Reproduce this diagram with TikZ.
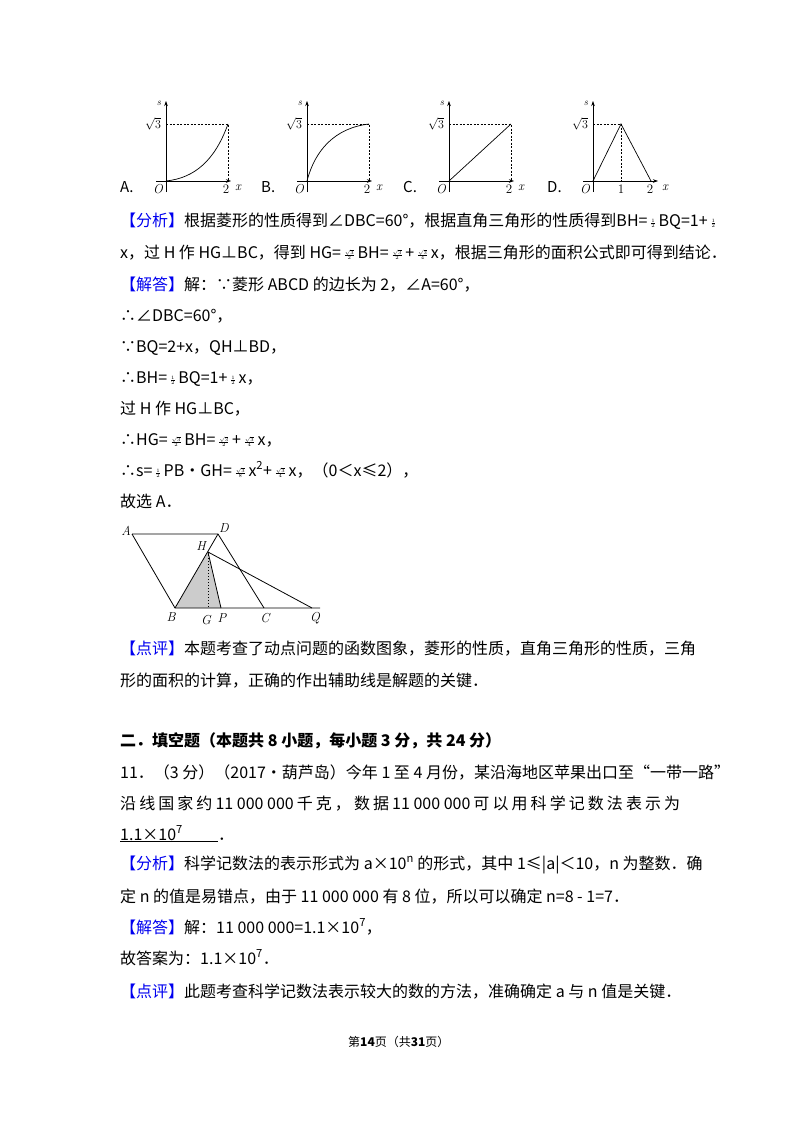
\documentclass[tikz,border=0pt]{standalone}
\usepackage{fontspec}
\usetikzlibrary{arrows.meta}
\setmainfont{Noto Sans CJK SC}
\newfontfamily\lm{Latin Modern Roman}
\newcommand\fr[2]{\,\raisebox{1pt}{\fontsize{6}{6}\selectfont$\frac{#1}{#2}$}\,}
\definecolor{tagblue}{RGB}{0,0,240}
\begin{document}
\begin{tikzpicture}[x=1pt,y=-1pt,
  txt/.style={anchor=base west,inner sep=0pt,font=\fontsize{16}{16}\selectfont},
  lbl/.style={inner sep=0pt,font=\fontsize{13}{13}\selectfont\lm\itshape},
  num/.style={inner sep=0pt,font=\fontsize{13}{13}\selectfont\lm},
  ax/.style={line width=0.6pt,-{Stealth[length=5pt,width=3.5pt]}},
  dsh/.style={dashed,dash pattern=on 2pt off 1.5pt,line width=0.5pt},
  crv/.style={line width=0.7pt},
  geo/.style={line width=0.8pt}]
\useasboundingbox (0,0) rectangle (800,1132);
\fill[white] (0,0) rectangle (800,1132);
% ---- four graphs
\foreach \ox/\lab in {166/A,307/B,449/C,593/D}{
  \draw[ax] (\ox-10,181) -- (\ox+65,181);
  \draw[ax] (\ox,192) -- (\ox,101);
  \node[lbl,font=\fontsize{10}{10}\selectfont\lm\itshape] at (\ox-7,103) {s};
  \node[lbl] at (\ox-8,189) {O};
  \node[num] at (\ox-13,124) {$\sqrt{3}$};
  \node[lbl] at (\ox+72,188) {x};
  \node[txt,font=\fontsize{15}{15}\selectfont] at (\ox-46,192) {\lab.};
}
\foreach \ox in {166,307,449}{
  \draw[dsh] (\ox,124) -- (\ox+62,124) -- (\ox+62,181);
  \node[num] at (\ox+60,189) {2};
}
\draw[crv] (166,181) .. controls (195,178) and (215,160) .. (228,124);
\draw[crv] (307,181) .. controls (315,150) and (335,128) .. (369,124);
\draw[crv] (449,181) -- (511,124);
\draw[dsh] (593,124) -- (621,124) -- (621,181);
\draw[crv] (593,181) -- (621,124) -- (651,181);
\node[num] at (621,189) {1};
\node[num] at (650,189) {2};
% ---- text block 1
\node[txt] (t1) at (120,226) {{\color{tagblue}【分析】}根据菱形的性质得到∠DBC=60°，根据直角三角形的性质得到BH=\fr12BQ=1+\fr12};
\node[txt] (t2) at (120,258) {x，过 H 作 HG⊥BC，得到 HG=\fr{\sqrt3}{2}BH=\fr{\sqrt3}{2}+\fr{\sqrt3}{4}x，根据三角形的面积公式即可得到结论．};
\node[txt] (t3) at (120,290) {{\color{tagblue}【解答】}解：∵菱形 ABCD 的边长为 2，∠A=60°，};
\node[txt] (t4) at (120,321) {∴∠DBC=60°，};
\node[txt] (t5) at (120,352) {∵BQ=2+x，QH⊥BD，};
\node[txt] (t6) at (120,383) {∴BH=\fr12BQ=1+\fr12x，};
\node[txt] (t7) at (120,414) {过 H 作 HG⊥BC，};
\node[txt] (t8) at (120,445) {∴HG=\fr{\sqrt3}{2}BH=\fr{\sqrt3}{2}+\fr{\sqrt3}{4}x，};
\node[txt] (t9) at (120,476) {∴s=\fr12PB•GH=\fr{\sqrt3}{8}x\textsuperscript{2}+\fr{\sqrt3}{4}x，（0＜x≤2），};
\node[txt] (t10) at (120,507) {故选 A．};
% ---- rhombus figure
\coordinate (A) at (132,534); \coordinate (D) at (218,534);
\coordinate (B) at (175,608); \coordinate (C) at (264,608);
\coordinate (Q) at (312,608); \coordinate (E) at (320,608);
\coordinate (H) at (208,552); \coordinate (G) at (208,608);
\coordinate (P) at (221,608);
\fill[gray!40] (B) -- (H) -- (P) -- cycle;
\draw[geo] (A) -- (D) -- (C);
\draw[geo] (A) -- (B) -- (E);
\draw[geo] (B) -- (D);
\draw[geo] (H) -- (Q);
\draw[geo] (H) -- (P);
\draw[dotted,line width=1pt] (H) -- (G);
\node[lbl] at (126,531) {A};
\node[lbl] at (224,528) {D};
\node[lbl] at (201,546) {H};
\node[lbl] at (171,617) {B};
\node[lbl] at (206,620) {G};
\node[lbl] at (222,618) {P};
\node[lbl] at (265,618) {C};
\node[lbl] at (315,618) {Q};
% ---- text block 2
\node[txt] (t11) at (120,654) {{\color{tagblue}【点评】}本题考查了动点问题的函数图象，菱形的性质，直角三角形的性质，三角};
\node[txt] (t12) at (120,686) {形的面积的计算，正确的作出辅助线是解题的关键．};
\node[txt,font=\fontsize{16}{16}\selectfont\bfseries] (t13) at (120,746) {二．填空题（本题共 8 小题，每小题 3 分，共 24 分）};
\node[txt] (t14) at (120,778) {11．（3 分）（2017•葫芦岛）今年 1 至 4 月份，某沿海地区苹果出口至“一带一路”};
\node[txt] (t15) at (120,809) {\makebox[560pt][s]{沿\hfill 线\hfill 国\hfill 家\hfill 约\hfill 11 000 000\hfill 千\hfill 克\hfill ，\hfill 数\hfill 据\hfill 11 000 000\hfill 可\hfill 以\hfill 用\hfill 科\hfill 学\hfill 记\hfill 数\hfill 法\hfill 表\hfill 示\hfill 为}};
\node[txt] (t16) at (120,840) {\underline{1.1×10\textsuperscript{7}\hspace{2.2em}}．};
\node[txt] (t17) at (120,869) {{\color{tagblue}【分析】}科学记数法的表示形式为 a×10\textsuperscript{n} 的形式，其中 1≤|a|＜10，n 为整数．确};
\node[txt] (t18) at (120,902) {定 n 的值是易错点，由于 11 000 000 有 8 位，所以可以确定 n=8 - 1=7．};
\node[txt] (t19) at (120,933) {{\color{tagblue}【解答】}解：11 000 000=1.1×10\textsuperscript{7}，};
\node[txt] (t20) at (120,964) {故答案为：1.1×10\textsuperscript{7}．};
\node[txt] (t21) at (120,997) {{\color{tagblue}【点评】}此题考查科学记数法表示较大的数的方法，准确确定 a 与 n 值是关键．};
\node[txt,font=\fontsize{12}{12}\selectfont] (ft) at (348,1046) {第\textbf{14}页（共\textbf{31}页）};
\end{tikzpicture}
\end{document}
